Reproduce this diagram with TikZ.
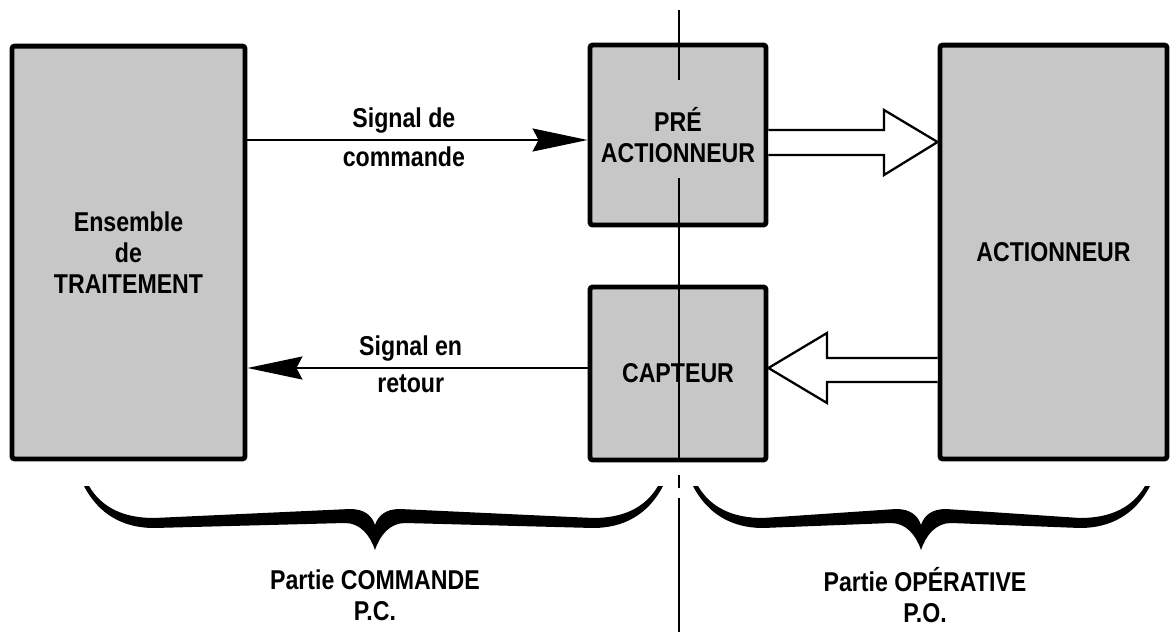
\documentclass[tikz,border=0pt]{standalone}
\usepackage{fontspec}
\setmainfont{Liberation Sans}[FakeStretch=0.85]
\usetikzlibrary{arrows.meta}

% curly brace: left end, tip, right end
\newcommand{\accolade}[3]{%
  \fill (#1,486) .. controls ({#1+15},515) and ({#1+40},528) .. ({#1+70},528)
    -- ({#2-30},523) .. controls ({#2-15},523) and ({#2-5},535) .. (#2,550)
    .. controls ({#2+5},535) and ({#2+15},523) .. ({#2+30},523)
    -- ({#3-70},528) .. controls ({#3-40},528) and ({#3-15},515) .. (#3,486)
    -- ({#3-5},486) .. controls ({#3-18},508) and ({#3-40},518) .. ({#3-70},518)
    -- ({#2+25},509) .. controls ({#2+10},509) and ({#2+3},516) .. (#2,525)
    .. controls ({#2-3},516) and ({#2-10},509) .. ({#2-25},509)
    -- ({#1+70},518) .. controls ({#1+40},518) and ({#1+18},508) .. ({#1+5},486)
    -- cycle;}

\begin{document}
\begin{tikzpicture}[x=0.02cm, y=-0.02cm,
    every node/.style={font=\fontsize{15.5}{17.5}\selectfont\bfseries, align=center},
    bloc/.style={rectangle, draw, line width=2.8pt, fill=black!22, rounded corners=1.5pt},
    sig/.style={line width=1.1pt, -{Stealth[length=1.1cm, width=0.46cm, inset=0.12cm]}},
    creux/.style={line width=1.3pt, fill=white, line join=miter},
    axe/.style={line width=1.3pt}]

    \useasboundingbox (0,0) rectangle (1170,632);

    % Ensemble de traitement
    \node[bloc, minimum width=4.66cm, minimum height=8.26cm] (trait) at (128.5,252.5) {Ensemble\\de\\TRAITEMENT};

    % pre-actionneur
    \node[bloc, minimum width=3.52cm, minimum height=3.6cm] (pre) at (678,135) {PRÉ\\ACTIONNEUR};

    % capteur
    \node[bloc, minimum width=3.52cm, minimum height=3.46cm] (cap) at (678,373.5) {CAPTEUR};

    % actionneur
    \node[bloc, minimum width=4.54cm, minimum height=8.28cm] (act) at (1053.5,252) {ACTIONNEUR};

    % separation PC / PO
    \draw[axe] (679,10) -- (679,80);
    \draw[axe] (679,178) -- (679,462);
    \draw[axe] (679,475) -- (679,488);
    \draw[axe] (679,498) -- (679,632);

    % signal de commande
    \draw[sig] (trait.east |- 0,140) -- node[pos=0.46, above=0pt] {Signal de} node[pos=0.46, below=0pt] {commande} (pre.west |- 0,140);

    % signal en retour
    \draw[sig] (cap.west |- 0,368) -- node[pos=0.52, above=0pt] {Signal en} node[pos=0.52, below=0pt] {retour} (trait.east |- 0,368);

    % ordres vers actionneur
    \draw[creux] (pre.east |- 0,130) -- (884,130) -- (884,110) -- (act.west |- 0,142) -- (884,175) -- (884,155) -- (pre.east |- 0,155);

    % informations vers capteur
    \draw[creux] (act.west |- 0,358) -- (827,358) -- (827,333) -- (cap.east |- 0,368) -- (827,403) -- (827,382) -- (act.west |- 0,382);

    % accolades
    \accolade{84}{375}{663}
    \accolade{693}{921}{1150}

    % parties
    \node (pc) at (375,595) {Partie COMMANDE\\P.C.};
    \node (po) at (925,595) {Partie OPÉRATIVE\\P.O.};

\end{tikzpicture}
\end{document}
